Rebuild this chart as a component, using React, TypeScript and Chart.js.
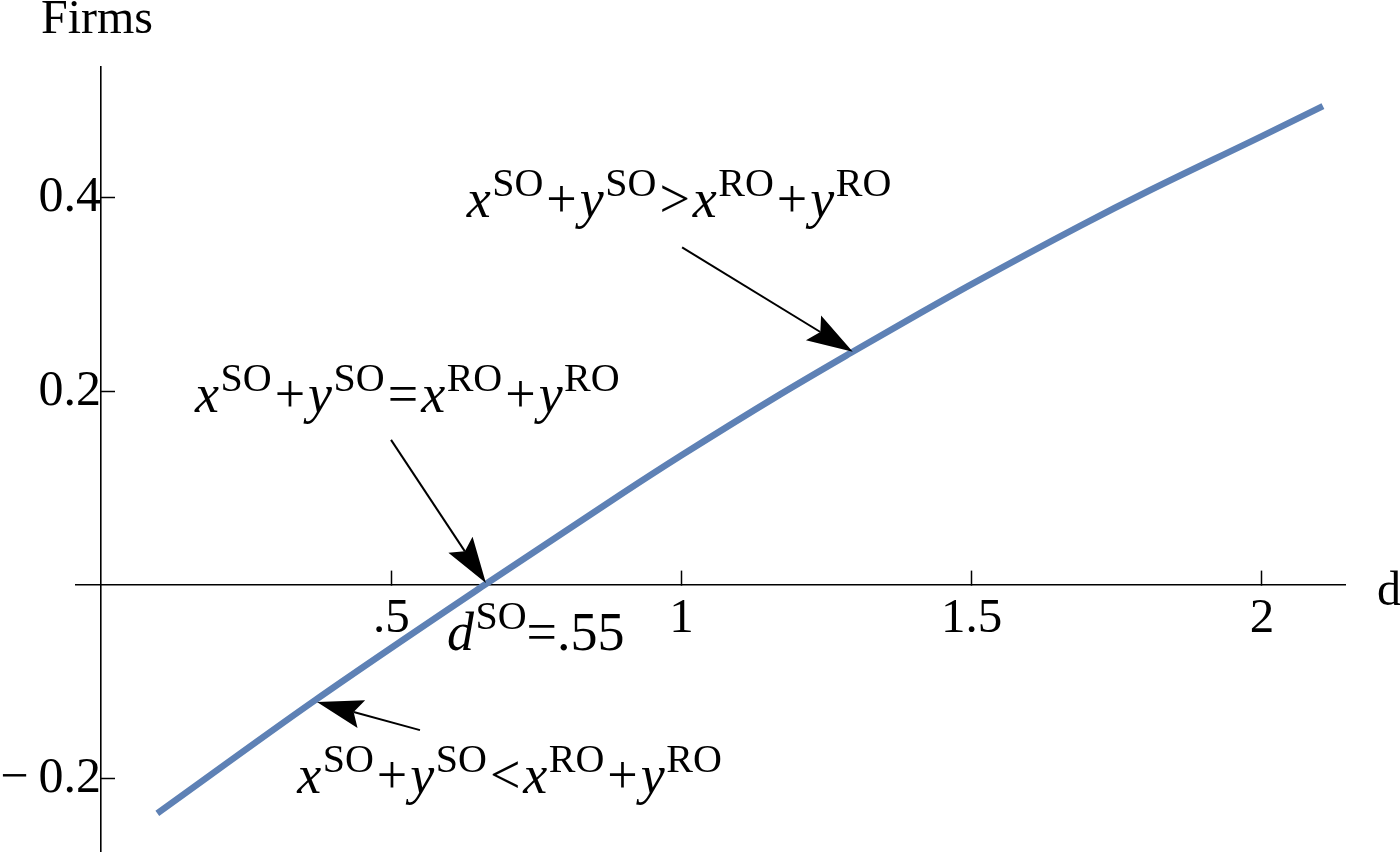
import React, { useEffect, useRef } from "react";
import { Chart, registerables } from "chart.js";

Chart.register(...registerables);

// ---- data ----
const dValues = [0.097, 0.369, 0.663, 0.894, 1.0, 1.17, 1.292, 1.411, 1.5, 1.686, 1.807, 2.0, 2.105];
const firmValues = [-0.236, -0.119, 0.001, 0.093, 0.134, 0.197, 0.24, 0.281, 0.311, 0.371, 0.408, 0.464, 0.495];

const xTickValues = [0.5, 1, 1.5, 2];
const xTickLabels = [".5", "1", "1.5", "2"];
const yTickValues = [-0.2, 0.2, 0.4];
const yTickLabels = ["\u2212\u20090.2", "0.2", "0.4"];

const xTitle = "d";
const yTitle = "Firms";

type Seg = { t: string; it?: boolean; sup?: boolean; op?: boolean };
const sumSO: Seg[] = [
  { t: "x", it: true },
  { t: "SO", sup: true },
  { t: "+", op: true },
  { t: "y", it: true },
  { t: "SO", sup: true },
];
const sumRO: Seg[] = [
  { t: "x", it: true },
  { t: "RO", sup: true },
  { t: "+", op: true },
  { t: "y", it: true },
  { t: "RO", sup: true },
];
const annotationTexts: Seg[][] = [
  [...sumSO, { t: ">", op: true }, ...sumRO],
  [...sumSO, { t: "=", op: true }, ...sumRO],
  [...sumSO, { t: "<", op: true }, ...sumRO],
  [{ t: "d", it: true }, { t: "SO", sup: true }, { t: "=.55" }],
];
// anchor (left, baseline) of each annotation in data coordinates
const annotationD = [0.63, 0.162, 0.338, 0.596];
const annotationV = [0.38, 0.179, -0.215, -0.067];

// arrows: tail -> tip, in data coordinates
const arrowTailD = [1.001, 0.4996, 0.5495];
const arrowTailV = [0.349, 0.15, -0.15];
const arrowTipD = [1.295, 0.663, 0.372];
const arrowTipV = [0.241, 0.002, -0.121];

// ---- styles ----
const SERIF = "'Liberation Serif', 'Times New Roman', serif";
const LINE_COLOR = "#5E81B5";
const MAIN_SIZE = 54;
const SUP_SIZE = 40;
const SUP_RAISE = 21;

function drawRich(ctx: CanvasRenderingContext2D, segs: Seg[], x0: number, y0: number) {
  let x = x0;
  ctx.textAlign = "left";
  ctx.textBaseline = "alphabetic";
  for (const s of segs) {
    const size = s.sup ? SUP_SIZE : MAIN_SIZE;
    ctx.font = `${s.it ? "italic " : ""}${size}px ${SERIF}`;
    if (s.op) x += 3;
    ctx.fillText(s.t, x, s.sup ? y0 - SUP_RAISE : y0);
    x += ctx.measureText(s.t).width;
    if (s.op) x += 3;
    if (s.it) x += 1.5;
  }
}

function drawArrow(ctx: CanvasRenderingContext2D, x1: number, y1: number, x2: number, y2: number) {
  const L = 46;
  const W = 14.5;
  const N = 8;
  const a = Math.atan2(y2 - y1, x2 - x1);
  const ux = Math.cos(a);
  const uy = Math.sin(a);
  const nx = -uy;
  const ny = ux;
  ctx.strokeStyle = "#000";
  ctx.fillStyle = "#000";
  ctx.lineWidth = 2;
  ctx.beginPath();
  ctx.moveTo(x1, y1);
  ctx.lineTo(x2 - (L - N) * ux, y2 - (L - N) * uy);
  ctx.stroke();
  ctx.beginPath();
  ctx.moveTo(x2, y2);
  ctx.lineTo(x2 - L * ux + W * nx, y2 - L * uy + W * ny);
  ctx.lineTo(x2 - (L - N) * ux, y2 - (L - N) * uy);
  ctx.lineTo(x2 - L * ux - W * nx, y2 - L * uy - W * ny);
  ctx.closePath();
  ctx.fill();
}

const overlayPlugin = {
  id: "overlay",
  afterDraw(chart: any) {
    const { ctx, chartArea } = chart;
    const xs = chart.scales.x;
    const ys = chart.scales.y;
    ctx.save();
    ctx.fillStyle = "#000";
    ctx.font = `48px ${SERIF}`;
    ctx.textBaseline = "alphabetic";
    ctx.textAlign = "center";
    ctx.fillText(yTitle, xs.getPixelForValue(0) - 4, chartArea.top - 34);
    ctx.textAlign = "left";
    ctx.fillText(xTitle, chartArea.right + 32, ys.getPixelForValue(0) + 20);

    annotationTexts.forEach((segs, i) => {
      drawRich(ctx, segs, xs.getPixelForValue(annotationD[i]), ys.getPixelForValue(annotationV[i]));
    });

    arrowTailD.forEach((_, i) => {
      drawArrow(
        ctx,
        xs.getPixelForValue(arrowTailD[i]),
        ys.getPixelForValue(arrowTailV[i]),
        xs.getPixelForValue(arrowTipD[i]),
        ys.getPixelForValue(arrowTipV[i])
      );
    });
    ctx.restore();
  },
};

const zeroPadding = (scale: any) => {
  scale.paddingTop = 0;
  scale.paddingBottom = 0;
  scale.paddingLeft = 0;
  scale.paddingRight = 0;
};

export default function App() {
  const canvasRef = useRef<HTMLCanvasElement | null>(null);

  useEffect(() => {
    if (!canvasRef.current) return;
    const points = dValues.map((d, i) => ({ x: d, y: firmValues[i] }));
    const chart = new Chart(canvasRef.current, {
      type: "line",
      data: {
        datasets: [
          {
            data: points,
            borderColor: LINE_COLOR,
            borderWidth: 6.5,
            pointRadius: 0,
            cubicInterpolationMode: "monotone",
            borderCapStyle: "butt",
            fill: false,
          },
        ],
      },
      options: {
        animation: false,
        responsive: false,
        maintainAspectRatio: false,
        devicePixelRatio: 1,
        layout: { padding: { left: 76, right: 55, top: 67, bottom: 0 } },
        plugins: { legend: { display: false }, tooltip: { enabled: false } },
        scales: {
          x: {
            type: "linear",
            min: -0.0431,
            max: 2.143,
            position: { y: 0 } as any,
            afterBuildTicks: (scale: any) => {
              scale.ticks = xTickValues.map((v) => ({ value: v }));
            },
            afterFit: zeroPadding,
            grid: {
              display: true,
              drawOnChartArea: false,
              drawTicks: true,
              tickLength: -15,
              tickColor: "#000",
              tickWidth: 1.5,
            },
            border: { display: true, color: "#000", width: 1.6 },
            ticks: {
              autoSkip: false,
              maxRotation: 0,
              padding: 20,
              color: "#000",
              font: { family: SERIF, size: 49 },
              callback: (_v: any, i: number) => xTickLabels[i],
            },
          },
          y: {
            type: "linear",
            min: -0.276,
            max: 0.5354,
            position: { x: 0 } as any,
            afterBuildTicks: (scale: any) => {
              scale.ticks = yTickValues.map((v) => ({ value: v }));
            },
            afterFit: zeroPadding,
            grid: {
              display: true,
              drawOnChartArea: false,
              drawTicks: true,
              tickLength: -15,
              tickColor: "#000",
              tickWidth: 1.5,
            },
            border: { display: true, color: "#000", width: 1.6 },
            ticks: {
              autoSkip: false,
              padding: 28,
              color: "#000",
              font: { family: SERIF, size: 50 },
              callback: (_v: any, i: number) => yTickLabels[i],
            },
          },
        },
      },
      plugins: [overlayPlugin],
    });
    return () => chart.destroy();
  }, []);

  return (
    <div style={{ position: "fixed", left: 0, top: 0, width: 1400, height: 852, background: "#fff" }}>
      <canvas ref={canvasRef} width={1400} height={852} style={{ display: "block" }} />
    </div>
  );
}
